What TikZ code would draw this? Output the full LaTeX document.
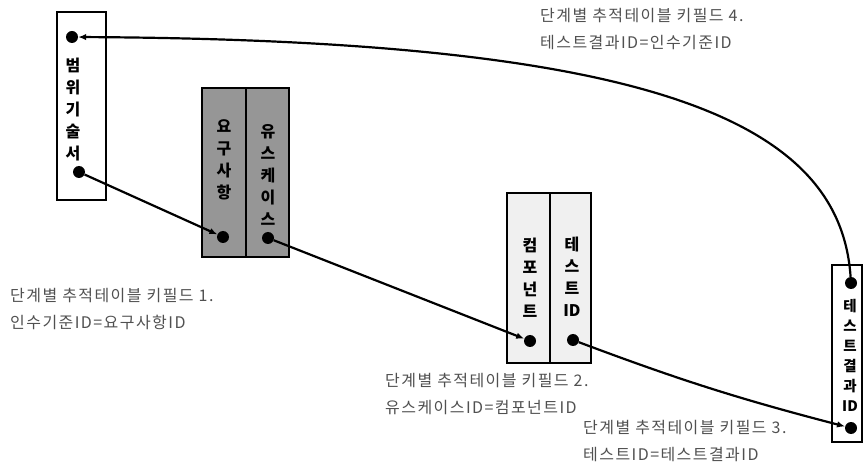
\documentclass[tikz,border=0pt]{standalone}
\usepackage{fontspec}
\setmainfont{Noto Sans CJK KR}
\newfontfamily\lblfont[LetterSpace=9]{Noto Sans CJK KR}
\usetikzlibrary{arrows.meta}
\definecolor{boxgray}{RGB}{150,150,150}
\definecolor{boxlight}{RGB}{240,240,240}
\definecolor{labelgray}{RGB}{80,80,80}
\tikzset{
  x=1pt, y=-1pt,
  frame/.style={draw=black, line width=2.8pt, inner sep=0pt},
  divider/.style={draw=black, line width=1.2pt},
  vtext/.style={font=\bfseries\fontsize{16}{22}\selectfont, align=center, inner sep=0pt},
  dot/.style={circle, fill=black, minimum size=12pt, inner sep=0pt},
  link/.style={line width=2.2pt, -{Latex[length=8pt,width=6.5pt]}},
  lbl/.style={font=\lblfont\fontsize{16}{27}\selectfont, text=labelgray, align=left, anchor=west, inner sep=0pt}
}
\begin{document}
\begin{tikzpicture}
\useasboundingbox (0,0) rectangle (863,465);
% boxes
\node[frame, minimum width=49pt, minimum height=188pt] (b1) at (81.5,106) {};
\node[frame, fill=boxgray, minimum width=87pt, minimum height=169pt] (b2) at (245.5,172.5) {};
\node[frame, fill=boxlight, minimum width=84pt, minimum height=170pt] (b3) at (549,278) {};
\node[frame, minimum width=30pt, minimum height=177pt] (b4) at (847,353.5) {};
\draw[divider] (246,89) -- (246,256);
\draw[divider] (550,194) -- (550,362);
% box texts
\node[vtext] (t1) at (73,110) {범\\위\\기\\술\\서};
\node[vtext] (t2a) at (224,160) {요\\구\\사\\항};
\node[vtext] (t2b) at (268,175) {유\\스\\케\\이\\스};
\node[vtext] (t3a) at (530,278) {컴\\포\\넌\\트};
\node[vtext] (t3b) at (572,277) {테\\스\\트\\ID};
\node[vtext, font=\bfseries\fontsize{14.5}{20}\selectfont] (t4) at (850,355) {테\\스\\트\\결\\과\\ID};
% dots
\node[dot] (d1t) at (72,37) {};
\node[dot] (d1b) at (79,172) {};
\node[dot] (d2a) at (223,237) {};
\node[dot] (d2b) at (268,238) {};
\node[dot] (d3a) at (530,341) {};
\node[dot] (d3b) at (573,340) {};
\node[dot] (d4t) at (851,283) {};
\node[dot] (d4b) at (851,428) {};
% connectors
\draw[link] (d1b) -- (d2a);
\draw[link] (d2b) -- (d3a);
\draw[link] (d3b) to[bend right=3] (d4b);
\draw[link] (d4t) .. controls (840,120) and (650,40) .. (d1t);
% labels
\node[lbl] (l1) at (10,309) {단계별 추적테이블 키필드 1.\\인수기준ID=요구사항ID};
\node[lbl] (l2) at (385,394.5) {단계별 추적테이블 키필드 2.\\유스케이스ID=컴포넌트ID};
\node[lbl] (l3) at (583,441.5) {단계별 추적테이블 키필드 3.\\테스트ID=테스트결과ID};
\node[lbl] (l4) at (540,29.5) {단계별 추적테이블 키필드 4.\\테스트결과ID=인수기준ID};
\end{tikzpicture}
\end{document}
